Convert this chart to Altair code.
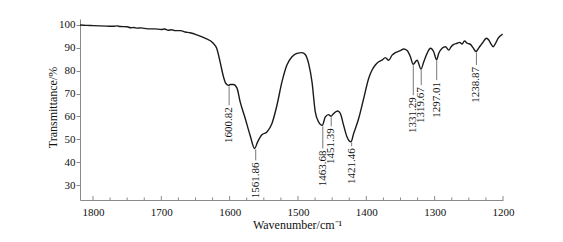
import altair as alt
import pandas as pd

# Spectrum trace (wavenumber, transmittance %)
wavenumber = [1819, 1810, 1800, 1790, 1780, 1770, 1765, 1760, 1750, 1745, 1740, 1735, 1730,
              1720, 1710, 1700, 1695, 1690, 1685, 1680, 1672, 1665, 1658, 1648, 1636, 1624,
              1619, 1614, 1609, 1605.5, 1601.5, 1599, 1594.4, 1589.4, 1584.6, 1577.2, 1570.1,
              1563.5, 1559.2, 1552.8, 1545.5, 1538.1, 1530.8, 1523.5, 1516.2, 1508.8, 1501.5,
              1494.2, 1489.4, 1484.5, 1479.5, 1474.7, 1469.8, 1464.5, 1460, 1455.2, 1451.5,
              1447.9, 1442, 1438, 1433.2, 1428.2, 1422.5, 1418.6, 1411.2, 1403.9, 1396.6,
              1391.6, 1386.8, 1381.9, 1377, 1372.1, 1367.3, 1362.3, 1357.5, 1350.1, 1345.3,
              1340.3, 1335.5, 1331.5, 1325.7, 1320, 1316, 1311.1, 1306.2, 1301.4, 1297.2,
              1294, 1289.1, 1284.2, 1279.4, 1275.9, 1272, 1267.1, 1263.3, 1259.8, 1256.4,
              1252.4, 1247.6, 1243.7, 1239.5, 1235.4, 1230.4, 1224.1, 1220.8, 1217.2, 1214.3,
              1210.9, 1207, 1203.6, 1200.5]
transmittance = [100.0, 99.8, 99.7, 99.6, 99.5, 99.4, 99.6, 99.3, 99.2, 98.8, 98.9, 98.6, 98.7,
                 98.3, 98.3, 98.0, 98.2, 97.7, 97.9, 97.5, 97.5, 96.9, 96.6, 95.7, 94.2, 92.0,
                 89.8, 83.9, 77.3, 74.4, 73.6, 74.0, 74.0, 72.5, 66.4, 59.1, 51.8,
                 46.0, 48.8, 52.0, 53.2, 56.9, 64.9, 75.1, 82.5, 86.1, 87.6,
                 87.9, 87.1, 83.2, 75.1, 62.0, 57.6, 56.1, 59.8, 60.8, 60.1,
                 61.3, 62.4, 61.3, 56.1, 51.0, 48.9, 52.5, 59.1, 67.8, 76.6,
                 80.3, 82.5, 83.9, 84.6, 85.7, 84.6, 86.8, 87.9, 88.8, 89.5,
                 88.8, 86.1, 82.8, 84.6, 80.7, 83.9, 87.6, 89.8, 88.3, 84.8,
                 87.6, 89.8, 90.5, 89.0, 90.5, 91.5, 92.0, 92.4, 91.7, 93.0,
                 92.0, 91.5, 90.0, 88.4, 90.0, 92.0, 94.2, 93.4, 91.5, 90.5,
                 92.0, 94.2, 95.3, 96.0]

# Peak annotations
peak_labels = ["1600.82", "1561.86", "1463.68", "1451.39", "1421.46",
               "1331.29", "1319.67", "1297.01", "1238.87"]
peak_wn = [1600.82, 1561.86, 1463.68, 1451.39, 1421.46, 1331.29, 1319.67, 1297.01, 1238.87]
line_top = [73.2, 45.6, 55.7, 59.6, 48.6, 82.4, 80.3, 84.5, 88.0]
line_bottom = [64.9, 40.8, 46.0, 55.7, 47.0, 69.3, 73.7, 75.9, 82.5]

# Axis ticks
major_ticks = [1800, 1700, 1600, 1500, 1400, 1300, 1200]
minor_ticks = [1800 - 25 * i for i in range(25)]
y_ticks = [30, 40, 50, 60, 70, 80, 90, 100]

spec_df = pd.DataFrame({"wn": wavenumber, "t": transmittance})
peak_df = pd.DataFrame({"wn": peak_wn, "top": line_top, "bottom": line_bottom, "label": peak_labels})
minor_df = pd.DataFrame({"wn": [v for v in minor_ticks if v not in major_ticks]})
major_df = pd.DataFrame({"wn": major_ticks})

FONT = "Liberation Serif"
AXIS_GRAY = "#8a8a8a"

x_scale = alt.Scale(domain=[1200, 1819], reverse=True, nice=False, zero=False)
y_scale = alt.Scale(domain=[23.5, 102.6], nice=False, zero=False)

x_axis = alt.Axis(values=major_ticks, format="d", ticks=False, tickSize=0, grid=False,
                  domainColor=AXIS_GRAY, labelFont=FONT, labelFontSize=11,
                  labelColor="#111", labelBaseline="alphabetic", labelPadding=15,
                  labelOverlap=False, labelFlush=False,
                  title="Wavenumber/cm\u207b\u00b9", titleFont=FONT, titleFontSize=12,
                  titleFontWeight="normal", titleColor="#111", titleX=217, titleY=28,
                  titleAlign="center", titleBaseline="alphabetic")
y_axis = alt.Axis(values=y_ticks, format="d", grid=False, tickSize=4, tickColor=AXIS_GRAY,
                  domainColor=AXIS_GRAY, labelFont=FONT, labelFontSize=11,
                  labelColor="#111", labelPadding=1, labelOverlap=False, labelFlush=False,
                  title="Transmittance/%", titleFont=FONT, titleFontSize=12,
                  titleFontWeight="normal", titleColor="#111", titleX=-28, titleY=88,
                  titleAngle=270, titleAlign="center", titleBaseline="middle")


def X():
    return alt.X("wn:Q", scale=x_scale, axis=x_axis)


def Y(field):
    return alt.Y(field, scale=y_scale, axis=y_axis)


line = alt.Chart(spec_df).mark_line(color="#1a1a1a", strokeWidth=1.4, interpolate="monotone").encode(
    x=X(), y=Y("t:Q"),
)

rules = alt.Chart(peak_df).mark_rule(color="#777777", strokeWidth=1).encode(
    x=X(), y=Y("top:Q"), y2="bottom:Q",
)

labels = alt.Chart(peak_df).mark_text(angle=270, align="right", baseline="middle",
                                      font=FONT, fontSize=11, color="#111", dx=-2).encode(
    x=X(), y=Y("bottom:Q"), text="label:N",
)

minor = alt.Chart(minor_df).mark_rule(color=AXIS_GRAY, strokeWidth=1).encode(
    x=X(), y=alt.value(181), y2=alt.value(178.5),
)
major = alt.Chart(major_df).mark_rule(color=AXIS_GRAY, strokeWidth=1).encode(
    x=X(), y=alt.value(181), y2=alt.value(177),
)

chart = alt.layer(line, minor, major, rules, labels).properties(
    width=423, height=181,
    autosize=alt.AutoSizeParams(type="none"),
    padding={"left": 80, "top": 19, "right": 60, "bottom": 42},
    background="white",
).configure_view(stroke=None)

chart.save("out.html", embed_options={"renderer": "svg", "actions": False})
